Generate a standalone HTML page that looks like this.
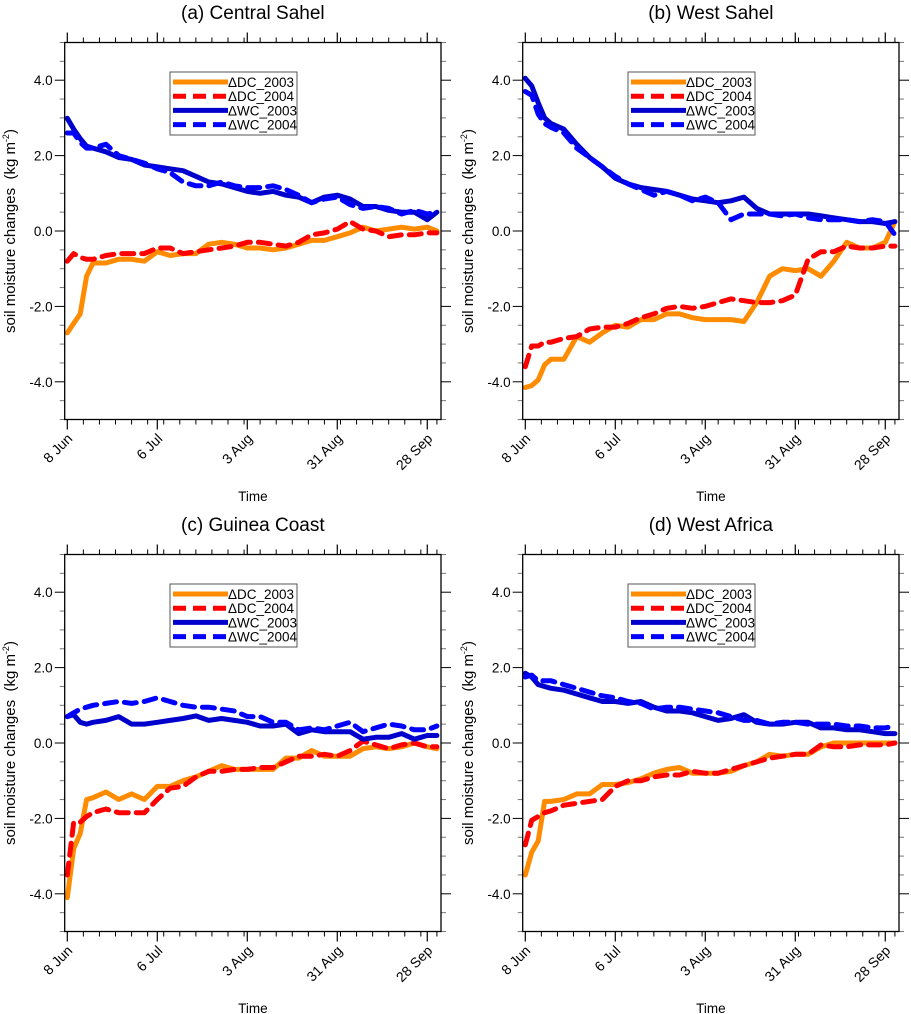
<!DOCTYPE html>
<html><head><meta charset="utf-8"><style>
html,body{margin:0;padding:0;background:#fff;}
svg{display:block;font-family:"Liberation Sans",Arial,sans-serif;}
</style></head><body>
<svg id="fig" width="911" height="1014" viewBox="0 0 911 1014" xmlns="http://www.w3.org/2000/svg"></svg>
<script>
const days = [0,2,4,6,8,12,16,20,24,28,32,36,40,44,48,52,56,60,64,68,72,76,80,84,88,92,96,100,104,108,112,115];
const xTickDays = [0,28,56,84,112];
const xTickLabels = ["8 Jun","6 Jul","3 Aug","31 Aug","28 Sep"];
const yTicks = [-4,-2,0,2,4];
const yTickLabels = ["-4.0","-2.0","0.0","2.0","4.0"];
const panelTitles = ["(a) Central Sahel","(b) West Sahel","(c) Guinea Coast","(d) West Africa"];
const seriesNames = ["\u0394DC_2003","\u0394DC_2004","\u0394WC_2003","\u0394WC_2004"];

const aDC03 = [-2.7,-2.45,-2.2,-1.2,-0.85,-0.85,-0.75,-0.75,-0.8,-0.55,-0.65,-0.6,-0.6,-0.35,-0.3,-0.35,-0.45,-0.45,-0.5,-0.45,-0.35,-0.25,-0.25,-0.15,-0.05,0.1,0.0,0.05,0.1,0.05,0.1,0.0];
const aDC04 = [-0.8,-0.6,-0.7,-0.75,-0.75,-0.65,-0.6,-0.6,-0.6,-0.45,-0.45,-0.6,-0.55,-0.5,-0.45,-0.4,-0.3,-0.3,-0.35,-0.4,-0.3,-0.1,-0.05,0.05,0.25,0.05,0.0,-0.15,-0.1,-0.1,-0.05,-0.05];
const aWC03 = [2.99,2.7,2.45,2.25,2.2,2.1,1.95,1.9,1.75,1.7,1.65,1.6,1.45,1.3,1.25,1.15,1.05,1.0,1.05,0.95,0.9,0.75,0.9,0.95,0.85,0.65,0.65,0.55,0.5,0.5,0.3,0.5];
const aWC04 = [2.6,2.6,2.35,2.2,2.2,2.3,2.0,1.9,1.8,1.65,1.55,1.3,1.2,1.2,1.3,1.2,1.15,1.15,1.2,1.1,0.95,0.75,0.85,0.9,0.7,0.6,0.65,0.6,0.45,0.55,0.45,0.5];
const bDC03 = [-4.15,-4.1,-3.95,-3.55,-3.4,-3.4,-2.8,-2.95,-2.7,-2.5,-2.55,-2.35,-2.35,-2.2,-2.2,-2.3,-2.35,-2.35,-2.35,-2.4,-1.9,-1.2,-1.0,-1.05,-1.0,-1.2,-0.8,-0.3,-0.45,-0.45,-0.3,0.25];
const bDC04 = [-3.6,-3.05,-3.05,-2.95,-2.95,-2.85,-2.8,-2.6,-2.55,-2.55,-2.45,-2.3,-2.2,-2.05,-2.0,-2.05,-2.0,-1.9,-1.8,-1.85,-1.9,-1.9,-1.85,-1.7,-0.75,-0.55,-0.55,-0.4,-0.45,-0.45,-0.4,-0.4];
const bWC03 = [4.05,3.85,3.4,3.0,2.85,2.7,2.3,1.95,1.7,1.4,1.25,1.15,1.1,1.05,0.95,0.85,0.8,0.75,0.8,0.9,0.6,0.45,0.45,0.45,0.45,0.4,0.35,0.3,0.25,0.25,0.2,0.25];
const bWC04 = [3.7,3.6,3.1,2.85,2.75,2.6,2.2,1.95,1.7,1.45,1.25,1.1,0.95,1.05,0.95,0.8,0.9,0.75,0.3,0.45,0.45,0.45,0.4,0.45,0.35,0.3,0.3,0.3,0.25,0.3,0.25,-0.1];
const cDC03 = [-4.1,-2.8,-2.4,-1.5,-1.45,-1.3,-1.5,-1.35,-1.5,-1.15,-1.15,-1.0,-0.9,-0.75,-0.6,-0.7,-0.7,-0.7,-0.7,-0.4,-0.4,-0.2,-0.35,-0.35,-0.35,-0.15,-0.1,-0.15,-0.1,0.0,-0.1,-0.15];
const cDC04 = [-3.5,-2.1,-2.1,-1.95,-1.85,-1.75,-1.85,-1.85,-1.85,-1.5,-1.2,-1.15,-0.9,-0.75,-0.75,-0.7,-0.7,-0.65,-0.65,-0.5,-0.35,-0.35,-0.3,-0.35,-0.2,0.05,-0.05,-0.15,-0.05,0.0,-0.1,-0.1];
const cWC03 = [0.7,0.75,0.55,0.5,0.55,0.6,0.7,0.5,0.5,0.55,0.6,0.65,0.72,0.6,0.65,0.6,0.55,0.45,0.45,0.5,0.25,0.35,0.3,0.3,0.3,0.1,0.15,0.15,0.25,0.1,0.2,0.2];
const cWC04 = [0.7,0.8,0.9,0.95,1.0,1.05,1.1,1.05,1.1,1.2,1.1,1.0,0.95,0.95,0.9,0.85,0.7,0.7,0.55,0.55,0.35,0.4,0.35,0.45,0.55,0.3,0.4,0.5,0.45,0.35,0.35,0.45];
const dDC03 = [-3.5,-2.9,-2.6,-1.55,-1.55,-1.5,-1.35,-1.35,-1.1,-1.1,-1.05,-0.95,-0.8,-0.7,-0.65,-0.8,-0.8,-0.8,-0.75,-0.6,-0.5,-0.3,-0.35,-0.3,-0.3,-0.1,0.0,0.0,0.0,0.0,0.0,0.0];
const dDC04 = [-2.7,-2.05,-1.95,-1.85,-1.8,-1.65,-1.6,-1.55,-1.5,-1.15,-1.0,-1.0,-0.9,-0.85,-0.85,-0.75,-0.8,-0.8,-0.7,-0.6,-0.5,-0.4,-0.35,-0.3,-0.3,-0.05,-0.1,-0.1,-0.05,-0.05,-0.05,0.0];
const dWC03 = [1.85,1.75,1.55,1.5,1.45,1.4,1.3,1.2,1.1,1.1,1.05,1.1,0.95,0.85,0.85,0.8,0.7,0.6,0.65,0.75,0.55,0.5,0.5,0.55,0.55,0.4,0.4,0.35,0.35,0.3,0.25,0.25];
const dWC04 = [1.75,1.8,1.65,1.65,1.65,1.55,1.45,1.35,1.25,1.2,1.1,1.05,0.9,0.95,0.95,0.9,0.85,0.8,0.7,0.6,0.6,0.5,0.55,0.55,0.5,0.5,0.5,0.45,0.45,0.4,0.4,0.45];

const panelData = [[aDC03,aDC04,aWC03,aWC04],[bDC03,bDC04,bWC03,bWC04],[cDC03,cDC04,cWC03,cWC04],[dDC03,dDC04,dWC03,dWC04]];
const colors = ["#FF8C00","#FF0000","#0000CD","#0000FF"];
const dashed = [false,true,false,true];
const offsets = [[0,0],[458,0],[0,512],[458,512]];
const NS = "http://www.w3.org/2000/svg";
const svg = document.getElementById("fig");
function mk(tag, attrs, parent){const e=document.createElementNS(NS,tag);for(const k in attrs)e.setAttribute(k,attrs[k]);(parent||svg).appendChild(e);return e;}

panelData.forEach((series, p) => {
  const [ox, oy] = offsets[p];
  const L = 64.7+ox, R = 441+ox, T = 42.5+oy, B = 419.5+oy;
  const x0 = 67.3+ox, pxd = 3.214;
  const xs = d => x0 + d*pxd;
  const ys = v => 231+oy - v*37.7;
  const g = mk("g", {});
  
  
  const title = mk("text", {x:(L+R)/2, y:19+oy, "text-anchor":"middle", "font-size":"19"}, g);
  title.textContent = panelTitles[p];
  
  
  for (let d=0; d<=115; d+=5) {
    if (d % 28 === 0) continue;
    mk("line",{x1:xs(d),x2:xs(d),y1:B,y2:B+5,stroke:"#000","stroke-width":1},g);
    mk("line",{x1:xs(d),x2:xs(d),y1:T,y2:T-5,stroke:"#000","stroke-width":1},g);
  }
  xTickDays.forEach((d,i)=>{
    mk("line",{x1:xs(d),x2:xs(d),y1:B,y2:B+10,stroke:"#000","stroke-width":1.2},g);
    mk("line",{x1:xs(d),x2:xs(d),y1:T,y2:T-10,stroke:"#000","stroke-width":1.2},g);
    const t = mk("text",{x:0,y:0,"text-anchor":"end","font-size":"14",transform:`translate(${xs(d)+6},${B+20}) rotate(-45)`},g);
    t.textContent = xTickLabels[i];
    
    
  });
  for (let v=-5; v<=5.001; v+=0.5) {
    const major = yTicks.includes(Math.round(v*10)/10);
    const len = major?10:5;
    mk("line",{x1:L,x2:L-len,y1:ys(v),y2:ys(v),stroke:major?"#000":"#777","stroke-width":1},g);
    mk("line",{x1:R,x2:R+len,y1:ys(v),y2:ys(v),stroke:major?"#000":"#777","stroke-width":1},g);
  }
  yTicks.forEach((v,i)=>{
    const t = mk("text",{x:L-12,y:ys(v)+5,"text-anchor":"end","font-size":"13.5"},g);
    t.textContent = yTickLabels[i];
    
    
  });
  const yl = mk("text",{x:0,y:0,"text-anchor":"middle","font-size":"15",transform:`translate(${15+ox},${231+oy}) rotate(-90)`},g);
  yl.innerHTML = 'soil moisture changes&#160;&#160;(kg m<tspan dy="-6" font-size="9">-2</tspan><tspan dy="6">)</tspan>';
  
  
  const xl = mk("text",{x:(L+R)/2,y:501+oy,"text-anchor":"middle","font-size":"13.5"},g);
  xl.textContent = "Time";
  
  
  series.forEach((vals,s)=>{
    const pts = days.map((d,i)=>xs(d).toFixed(1)+","+ys(vals[i]).toFixed(1)).join(" ");
    const pl = mk("polyline",{points:pts,fill:"none",stroke:colors[s],"stroke-width":5,"stroke-linejoin":"round","stroke-linecap":"round"},g);
    if (dashed[s]) pl.setAttribute("stroke-dasharray","12 8");
    
    
  });
  const fr = mk("rect",{x:L,y:T,width:R-L,height:B-T,fill:"none",stroke:"#000","stroke-width":1.3},g);
  
  
  const lg = mk("g",{},g);
  
  
  mk("rect",{x:170+ox,y:72+oy,width:127,height:63,fill:"#fff",stroke:"#555","stroke-width":1},lg);
  seriesNames.forEach((n,s)=>{
    const yy = 82+oy+s*14.2;
    const ln = mk("line",{x1:173+ox,x2:228+ox,y1:yy,y2:yy,stroke:colors[s],"stroke-width":5},lg);
    if (dashed[s]) ln.setAttribute("stroke-dasharray","13 7");
    const t = mk("text",{x:228+ox,y:yy+5,"font-size":"13.5"},lg);
    t.textContent = n;
    
    
  });
});
</script>
</body></html>
